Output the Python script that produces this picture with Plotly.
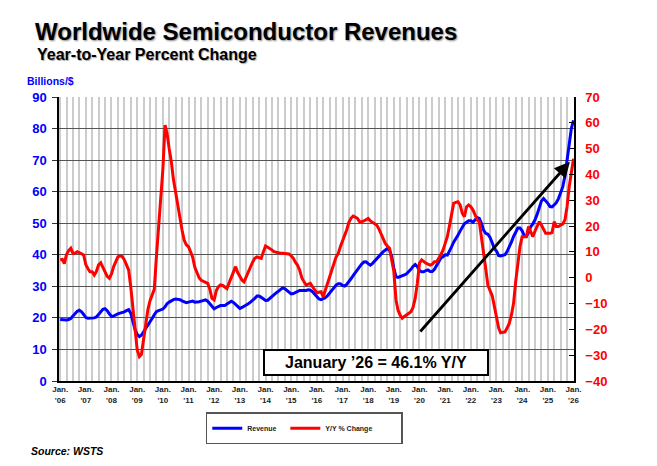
import plotly.graph_objects as go
import pandas as pd

# Monthly worldwide semiconductor revenue (billions $), Jan 2006 .. Jan 2026
revenue = [
    19.5, 19.4, 19.3, 19.3, 19.5, 19.8, 20.6, 21.4, 22.1, 22.4, 21.9, 21.1,  # 2006
    20.1, 19.9, 19.9, 19.9, 20.0, 20.3, 21.0, 21.9, 22.7, 22.9, 22.3, 21.3,  # 2007
    20.5, 20.6, 21.0, 21.3, 21.5, 21.6, 21.9, 22.3, 22.6, 21.5, 18.8, 16.3,  # 2008
    14.8, 14.1, 14.5, 15.5, 16.5, 17.6, 18.7, 19.8, 21.0, 22.0, 22.3, 22.5,  # 2009
    22.8, 23.5, 24.5, 25.0, 25.5, 25.8, 26.0, 26.0, 25.8, 25.4, 25.0, 24.8,  # 2010
    25.0, 25.2, 25.3, 25.0, 25.0, 25.1, 25.3, 25.6, 25.7, 25.3, 24.6, 23.6,  # 2011
    22.9, 23.3, 23.6, 23.9, 23.9, 23.9, 24.4, 25.0, 25.3, 24.9, 24.3, 23.5,  # 2012
    23.0, 23.3, 23.6, 24.0, 24.5, 25.0, 25.5, 26.2, 26.9, 26.9, 26.5, 26.0,  # 2013
    25.5, 25.6, 26.2, 26.8, 27.4, 27.9, 28.4, 29.0, 29.5, 29.3, 28.7, 28.0,  # 2014
    27.6, 27.7, 28.0, 28.4, 28.7, 28.7, 28.6, 28.7, 28.9, 28.8, 28.3, 27.6,  # 2015
    26.7, 26.0, 25.8, 26.0, 26.4, 27.0, 27.8, 28.7, 29.7, 30.4, 30.8, 30.8,  # 2016
    30.3, 30.1, 30.6, 31.4, 32.4, 33.4, 34.4, 35.3, 36.3, 37.1, 37.7, 37.8,  # 2017
    37.2, 36.7, 37.2, 38.0, 38.9, 39.6, 40.2, 40.9, 41.6, 42.0, 41.4, 39.5,  # 2018
    35.8, 33.0, 32.8, 33.0, 33.3, 33.6, 34.0, 34.6, 35.4, 36.3, 36.9, 36.3,  # 2019
    35.0, 34.6, 34.6, 35.0, 35.2, 34.7, 34.7, 35.4, 36.5, 37.8, 39.0, 39.4,  # 2020
    40.0, 39.9, 41.0, 42.5, 44.0, 45.0, 46.2, 47.5, 48.8, 49.8, 50.3, 50.8,  # 2021
    50.8, 50.3, 51.0, 51.8, 51.5, 50.0, 47.8, 46.8, 46.5, 45.5, 43.8, 42.0,  # 2022
    41.2, 39.7, 39.6, 39.7, 40.0, 41.0, 42.3, 44.0, 45.8, 47.2, 48.5, 48.5,  # 2023
    47.6, 46.0, 45.8, 47.1, 48.8, 49.8, 51.0, 52.8, 55.0, 57.0, 57.8, 57.2,  # 2024
    56.3, 55.3, 55.2, 55.8, 56.5, 57.8, 59.4, 61.5, 65.0, 70.5, 76.0, 80.0,  # 2025
    82.6,                                                                    # Jan 2026
]

# Year-to-year percent change, Jan 2006 .. Jan 2026
yoy_change = [
    7.0, 7.1, 5.5, 9.0, 10.5, 11.4, 9.5, 9.5, 10.1, 9.8, 9.3, 8.8,           # 2006
    5.0, 3.5, 2.3, 2.3, 1.0, 2.5, 5.0, 5.8, 4.0, 2.5, 0.5, -0.2,             # 2007
    1.5, 4.3, 6.0, 8.1, 8.5, 8.2, 7.0, 5.0, 3.0, -3.5, -12.0, -20.0,         # 2008
    -28.0, -30.6, -29.8, -24.0, -18.0, -12.5, -9.0, -6.5, -4.5, 8.0, 18.5, 30.0,  # 2009
    42.0, 59.1, 56.0, 50.0, 45.0, 38.0, 33.0, 29.0, 23.0, 18.5, 14.5, 12.7,  # 2010
    12.0, 9.5, 8.0, 4.0, 2.0, 0.0, -1.0, -1.5, -2.0, -2.2, -4.5, -8.0,       # 2011
    -8.6, -5.0, -3.5, -2.8, -3.0, -3.5, -4.2, -2.0, 0.4, 2.5, 4.3, 2.0,      # 2012
    0.4, -1.0, -1.6, 0.4, 2.5, 4.3, 6.0, 7.5, 8.1, 7.8, 7.5, 10.0,           # 2013
    12.3, 11.8, 11.4, 10.8, 10.1, 9.8, 9.5, 9.5, 9.5, 9.4, 9.3, 9.2,         # 2014
    8.5, 7.5, 6.0, 4.9, 3.0, 0.0, -1.5, -2.8, -2.5, -2.2, -3.5, -4.8,        # 2015
    -5.8, -5.6, -5.4, -7.4, -4.8, -1.5, 0.4, 3.0, 5.5, 8.0, 9.4, 12.0,       # 2016
    14.6, 16.5, 18.5, 21.5, 23.0, 23.9, 23.5, 23.0, 21.7, 21.7, 22.0, 22.5,  # 2017
    23.0, 22.0, 21.5, 21.1, 20.4, 19.0, 17.2, 15.5, 13.3, 12.3, 11.4, 7.0,   # 2018
    2.5, -8.6, -12.5, -14.5, -15.7, -15.0, -14.4, -14.0, -13.2, -11.5, -8.0, -2.2,  # 2019
    5.6, 6.9, 6.2, 5.6, 5.3, 4.9, 5.2, 6.2, 6.2, 7.5, 9.0, 10.7,             # 2020
    13.0, 16.0, 19.8, 24.9, 28.8, 29.2, 29.4, 28.2, 25.0, 23.6, 27.5, 28.2,  # 2021
    27.5, 26.2, 24.3, 22.5, 21.7, 16.0, 9.5, 3.5, -3.0, -5.0, -7.0, -11.0,   # 2022
    -15.5, -19.5, -21.3, -21.2, -21.0, -19.5, -17.7, -14.5, -9.9, -1.5, 6.0, 12.0,  # 2023
    15.9, 15.9, 15.9, 19.8, 17.5, 15.9, 18.0, 19.8, 21.7, 20.4, 19.0, 17.2,  # 2024
    17.2, 17.2, 17.5, 21.7, 19.8, 19.8, 20.4, 20.8, 22.4, 27.5, 35.3, 41.5,  # 2025
    46.1,                                                                    # Jan 2026
]

tick_years = ["'06", "'07", "'08", "'09", "'10", "'11", "'12", "'13", "'14", "'15",
              "'16", "'17", "'18", "'19", "'20", "'21", "'22", "'23", "'24", "'25", "'26"]

months = pd.date_range("2006-01-01", periods=len(revenue), freq="MS")
tick_dates = pd.date_range("2006-01-01", periods=len(tick_years), freq="12MS")
tick_text = ["Jan.<br>" + y for y in tick_years]

NBSP = "\u00a0"
fig = go.Figure()
fig.add_trace(go.Scatter(
    x=months, y=revenue, name="<b>Revenue</b>" + NBSP * 2, mode="lines",
    line=dict(color="#0000ff", width=3), yaxis="y"))
fig.add_trace(go.Scatter(
    x=months, y=yoy_change, name="<b>Y/Y % Change</b>" + NBSP * 12, mode="lines",
    line=dict(color="#ff0000", width=3), yaxis="y2"))

fig.update_layout(
    width=657, height=466,
    margin=dict(l=59, r=83, t=97, b=85),
    paper_bgcolor="white", plot_bgcolor="white",
    font=dict(family="Arial", color="black"),
    showlegend=True,
    legend=dict(
        orientation="h", x=0.285, y=-0.11, xanchor="left", yanchor="top",
        bordercolor="#555555", borderwidth=1.5, bgcolor="white",
        font=dict(family="Arial", size=7, color="#222222"),
        itemwidth=30, tracegroupgap=0,
    ),
    xaxis=dict(
        type="date", range=["2005-12-15", "2026-01-08"],
        tickmode="array", tickvals=tick_dates, ticktext=tick_text,
        showgrid=True, gridcolor="#cccccc", gridwidth=1.5,
        minor=dict(dtick="M3", tick0="2006-01-01", showgrid=True,
                   gridcolor="#cccccc", gridwidth=1.5),
        showline=True, linecolor="black", linewidth=1.5,
        ticks="", zeroline=False,
        tickfont=dict(family="Arial", size=8, color="#222222", weight="bold"),
    ),
    yaxis=dict(
        range=[0, 90], dtick=10, tick0=0,
        showgrid=True, gridcolor="#555555", gridwidth=1,
        showline=True, linecolor="black", linewidth=1.5,
        ticks="outside", ticklen=5, tickcolor="#333333",
        zeroline=False, ticklabelstandoff=3,
        tickfont=dict(family="Arial", size=13, color="#0000ff", weight="bold"),
    ),
    yaxis2=dict(
        overlaying="y", side="right",
        range=[-40, 70], dtick=10, tick0=-40,
        showgrid=False, zeroline=False,
        showline=True, linecolor="black", linewidth=1.5,
        ticks="inside", ticklen=5, tickcolor="black",
        ticklabelstandoff=7,
        tickfont=dict(family="Arial", size=13, color="#ff0000", weight="bold"),
    ),
)

annotations = [
    dict(text="<b>Worldwide Semiconductor Revenues</b>", xref="paper", yref="paper",
         x=-0.0505, y=1.2306, xanchor="left", yanchor="middle", showarrow=False,
         font=dict(family="Arial", size=24, color="black", shadow="1px 1px 2px #888")),
    dict(text="<b>Year-to-Year Percent Change</b>", xref="paper", yref="paper",
         x=-0.0466, y=1.148, xanchor="left", yanchor="middle", showarrow=False,
         font=dict(family="Arial", size=16, color="black", shadow="1px 1px 1px #aaa")),
    dict(text="<b>Billions/$</b>", xref="paper", yref="paper",
         x=-0.066, y=1.058, xanchor="left", yanchor="middle", showarrow=False,
         font=dict(family="Arial", size=10.5, color="#0000ff")),
    dict(text="<b><i>Source: WSTS</i></b>", xref="paper", yref="paper",
         x=-0.0583, y=-0.2465, xanchor="left", yanchor="middle", showarrow=False,
         font=dict(family="Arial", size=10.5, color="black")),
    dict(text="<b>January \u201926 = 46.1% Y/Y</b>", xref="paper", yref="paper",
         x=0.6153, y=0.0655, xanchor="center", yanchor="middle", showarrow=False,
         width=220, height=21, borderpad=1, borderwidth=2, bordercolor="black",
         bgcolor="white", font=dict(family="Arial", size=16, color="black")),
    dict(text="", xref="x domain", yref="y domain", x=0.992, y=0.772,
         axref="x domain", ayref="y domain", ax=0.699, ay=0.169,
         showarrow=True, arrowhead=2, arrowsize=1.1, arrowwidth=2.8, arrowcolor="black"),
]
fig.update_layout(annotations=annotations)

fig.write_html("out.html")
